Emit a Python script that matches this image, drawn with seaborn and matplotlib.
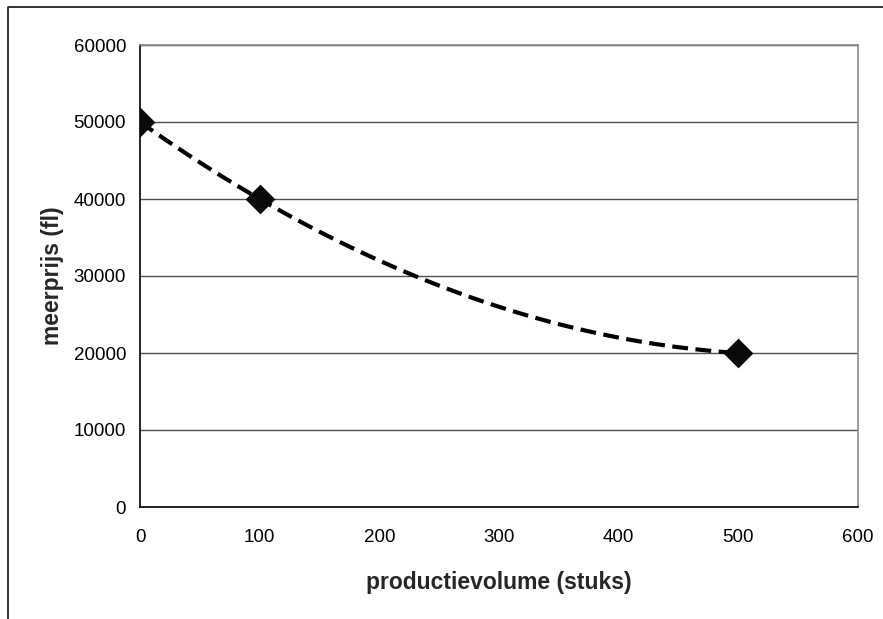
import numpy as np
import pandas as pd
import matplotlib
matplotlib.use("Agg")
import matplotlib.pyplot as plt
import seaborn as sns
from matplotlib.lines import Line2D

# ---- data ----
volume = [0, 100, 500]
price = [50000, 40000, 20000]
x_ticks = [0, 100, 200, 300, 400, 500, 600]
y_ticks = [0, 10000, 20000, 30000, 40000, 50000, 60000]
x_label = "productievolume (stuks)"
y_label = "meerprijs (fl)"

df = pd.DataFrame({"volume": volume, "price": price})

sns.set_style("white")
plt.rcParams["font.family"] = ["Liberation Sans", "DejaVu Sans"]

W, H = 883, 619
fig = plt.figure(figsize=(W / 100, H / 100), dpi=100)
ax = fig.add_axes([140 / W, 1 - 507 / H, 718 / W, 462 / H])

# second-order polynomial trendline (dashed) through the points, with diamond markers
sns.regplot(
    data=df, x="volume", y="price", order=2, ci=None, ax=ax,
    color="black", marker="D",
    scatter_kws=dict(s=230, zorder=3, linewidths=0, alpha=1, color="#0a0a0a"),
    line_kws=dict(lw=3.0, linestyle=(0, (3.8, 1.8)), zorder=2),
)

ax.set_xlim(0, 600)
ax.set_ylim(0, 60000)
ax.set_xticks(x_ticks)
ax.set_yticks(y_ticks)
ax.set_xticklabels([str(v) for v in x_ticks])
ax.set_yticklabels([str(v) for v in y_ticks])

ax.yaxis.grid(True, color="#4d4d4d", lw=1.0)
ax.xaxis.grid(False)
ax.set_axisbelow(True)

for side in ("left", "bottom"):
    ax.spines[side].set_color("black")
    ax.spines[side].set_linewidth(1.2)
for side in ("top", "right"):
    ax.spines[side].set_color("#888888")
    ax.spines[side].set_linewidth(1.2)
    ax.spines[side].set_visible(True)

ax.tick_params(axis="both", direction="out", length=5, width=1, color="black",
               labelsize=13.5, labelcolor="black")
ax.tick_params(axis="x", pad=11)
ax.tick_params(axis="y", pad=5)

ax.set_xlabel(x_label, fontsize=16.5, fontweight="bold", labelpad=18)
ax.set_ylabel(y_label, fontsize=16.5, fontweight="bold", labelpad=7)

# outer chart-area border (left and top edges visible in the crop)
x0 = 8 / W
y0 = 1 - 6.5 / H
fig.add_artist(Line2D([x0, x0, 1.01], [-0.01, y0, y0], transform=fig.transFigure,
                      color="#222222", lw=1.3))

fig.savefig("out.png", dpi=100, facecolor="white")
